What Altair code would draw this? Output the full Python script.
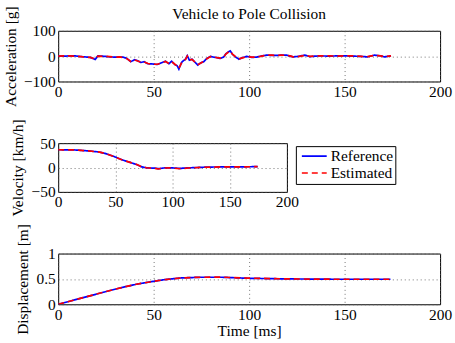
import altair as alt
import pandas as pd

FONT = "Liberation Serif"
FS = 15.5

# ---- Acceleration [g] ----
accel_t = [0, 3, 6, 9, 12, 14, 16.8, 19.4, 20.8, 24.6, 27, 29.8, 32, 34, 36, 38, 40, 41.6, 43.4, 45,
           47, 49.5, 51.9, 54.5, 56.2, 58, 59.4, 61.1, 62.3, 63.2, 64, 64.9, 66.7, 67.6, 68.7, 70.1,
           71.9, 73.1, 74.5, 76.2, 77.9, 79.7, 81.4, 83.1, 84.9, 86.6, 87.8, 89.2, 90.1, 91.3, 93,
           94.6, 96.5, 98.8, 101.4, 104, 106.6, 109.2, 112, 114.4, 117, 119.6, 121.5, 123, 125.7,
           129.2, 131.8, 134.5, 137, 142.2, 146, 150, 154, 158.6, 162, 165.6, 169, 170.8, 174.3]
accel_ref = [0, 0, 1, 1, -2, -3, -5, -13, 1, -1, -3, -4, -3, -4, -9, -22, -14, -18, -25, -22,
             -30, -31, -33, -25, -20, -30, -20, -33, -38, -51, -35, -22, -12, 2, -16, -12,
             -26, -35, -27, -22, -9, -1, -4, -6, -9, -4, 9, 17, 21, 7, -4,
             -12, -6, -1, -5, -4, 1, 4, 3, 3, 4, 4, 0, -3, -1,
             4, -2, 0, 1, 0, 1, 1, 0, -1, -3, 4, 1, -3, 1]
accel_est = [0, 1, 1, 0, -2, -4, -5, -11, 0, -1, -2, -4, -3, -5, -10, -21, -15, -19, -24, -23,
             -29, -32, -32, -26, -21, -29, -21, -32, -39, -48, -36, -21, -13, 0, -15, -13,
             -25, -34, -28, -21, -10, -2, -3, -6, -8, -5, 8, 16, 20, 8, -3,
             -11, -7, -2, -4, -4, 0, 4, 4, 2, 4, 3, 1, -3, -2,
             3, -1, 0, 1, 1, 0, 1, 1, -1, -2, 3, 1, -2, 1]

# ---- Velocity [km/h] ----
vel_t = [0, 15, 26.6, 35.3, 41, 48.4, 55.6, 62.9, 68.7, 73, 77.4, 84.6, 87.5, 93.3, 99.1,
         106.3, 113.6, 128, 142.6, 157, 174.4]
vel_ref = [36.5, 36, 34, 32, 29, 23, 16, 10.5, 6, 1.3, -0.7, -1.3, -2.3, -0.7, -0.7,
           -1.8, -0.7, 0.7, 1.3, 1.3, 1.8]
vel_est = [36.5, 36, 34, 32, 29, 23, 16, 10.5, 6.2, 1.5, -0.5, -1.8, -3, -1, -0.8,
           -2.5, -1, 0.5, 1.2, 1.3, 1.8]

# ---- Displacement [m] ----
disp_t = [0, 8, 16, 24, 33.3, 41, 49, 56, 64.6, 75, 85.4, 99.3, 120, 146, 174]
disp_ref = [0, 0.08, 0.16, 0.24, 0.33, 0.395, 0.447, 0.487, 0.52, 0.533, 0.533, 0.513, 0.5, 0.493, 0.493]
disp_est = [0, 0.08, 0.16, 0.24, 0.33, 0.395, 0.447, 0.487, 0.52, 0.533, 0.535, 0.515, 0.5, 0.493, 0.493]

series_names = ["Reference", "Estimated"]
x_ticks = [0, 50, 100, 150, 200]


def long_df(t, ref, est):
    rows = []
    for name, vals in zip(series_names, [ref, est]):
        for ti, vi in zip(t, vals):
            rows.append({"t": ti, "v": vi, "series": name})
    return pd.DataFrame(rows)


color_scale = alt.Scale(domain=series_names, range=["#0000ff", "#ff0000"])
dash_scale = alt.Scale(domain=series_names, range=[[1, 0], [6, 4]])


def panel(df, ydomain, yticks, ytitle, width, height, title_x, xtitle=None, legend=None):
    xaxis = alt.Axis(values=x_ticks, title=xtitle, format="~r")
    x = alt.X("t:Q", scale=alt.Scale(domain=[0, 200], nice=False, zero=False), axis=xaxis)
    y = alt.Y("v:Q", scale=alt.Scale(domain=ydomain, nice=False, zero=False),
              axis=alt.Axis(values=yticks, title=ytitle, titleX=title_x, titleY=height / 2,
                            format="~r"))
    col = alt.Color("series:N", scale=color_scale, legend=legend)
    dash = alt.StrokeDash("series:N", scale=dash_scale, legend=legend)
    base = alt.Chart(df).mark_line(strokeWidth=1.7, clip=True).encode(
        x=x, y=y, color=col, strokeDash=dash)
    return alt.layer(
        base.transform_filter(alt.datum.series == "Reference"),
        base.transform_filter(alt.datum.series == "Estimated"),
    ).properties(width=width, height=height)


legend = alt.Legend(orient="none", legendX=239, legendY=3, title=None, strokeColor="black",
                    fillColor="white", padding=2, symbolType="M-0.57,0H3", symbolSize=196,
                    symbolStrokeWidth=1.7, labelFont=FONT, labelFontSize=FS, labelColor="black",
                    rowPadding=-3, labelOffset=17, cornerRadius=0)

p1 = panel(long_df(accel_t, accel_ref, accel_est), [-100, 100], [-100, 0, 100],
           "Acceleration [g]", 384, 51, -40).properties(
    title=alt.TitleParams("Vehicle to Pole Collision", font=FONT, fontSize=FS,
                          fontWeight="normal", color="black", anchor="middle", offset=-17,
                          frame="group"))
p2 = panel(long_df(vel_t, vel_ref, vel_est), [-50, 50], [-50, 0, 50],
           "Velocity [km/h]", 230, 49, -33, legend=legend)
p3 = panel(long_df(disp_t, disp_ref, disp_est), [0, 1], [0, 0.5, 1],
           "Displacement [m]", 384, 51, -28, xtitle="Time [ms]")

chart = alt.vconcat(p1, p2, p3, spacing=62, bounds="flush").resolve_legend(
    color="independent", strokeDash="independent"
).properties(
    padding={"left": 2.5, "top": 4, "right": 2, "bottom": 2},
    background="white"
).configure_view(
    stroke="black", strokeWidth=1
).configure_axis(
    domain=False, ticks=False, labelFont=FONT, labelFontSize=FS, labelColor="black",
    titleFont=FONT, titleFontSize=FS, titleFontWeight="normal", titleColor="black",
    gridColor="#555555", gridDash=[1, 3], gridWidth=0.8, labelPadding=3,
    labelFlush=False, labelOverlap=False, titlePadding=1
)

chart.save("out.html", embed_options={"renderer": "svg", "actions": False})
